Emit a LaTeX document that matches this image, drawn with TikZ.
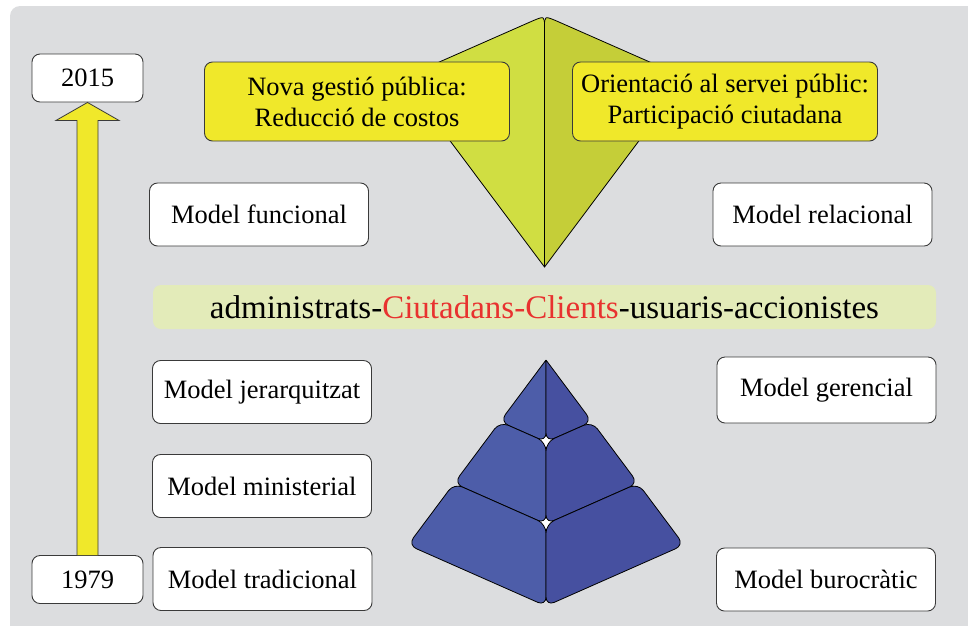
\documentclass[tikz,border=0pt]{standalone}
\usepackage{fontspec}
\setmainfont{Liberation Serif}
\usetikzlibrary{calc}
\definecolor{panelgrey}{HTML}{DCDDDF}
\definecolor{boxyellow}{HTML}{F0E82A}
\definecolor{bandgreen}{HTML}{E3EBB9}
\definecolor{accentred}{HTML}{E8322F}
\definecolor{kiteL}{HTML}{D0DE42}
\definecolor{kiteR}{HTML}{C5CE38}
\definecolor{pyrL}{HTML}{4D5DA9}
\definecolor{pyrR}{HTML}{4650A0}
\definecolor{edge}{HTML}{3A3A3A}
\begin{document}
\begin{tikzpicture}[x=1pt,y=-1pt,
  txt/.style={font=\fontsize{26.5}{31}\selectfont, text=black, align=center, inner sep=0pt},
  modelbox/.style={txt, draw=edge, line width=0.9pt, fill=white, rounded corners=8, minimum width=219, minimum height=63},
  yearbox/.style={txt, draw=edge, line width=0.9pt, fill=white, rounded corners=8, minimum width=111, minimum height=48},
  themebox/.style={txt, draw=edge, line width=0.9pt, fill=boxyellow, rounded corners=8, minimum width=305, minimum height=79},
  piece/.style={draw=black, line width=0.8pt, rounded corners=9, line join=round}]
\useasboundingbox (0,0) rectangle (968,625);
% background panel
\fill[panelgrey, rounded corners=10] (10,6) rectangle (990,650);

% kite behind the two theme boxes
\coordinate (Dtop) at (544.5,16);
\coordinate (Dbot) at (544.5,267);
\coordinate (Dleft) at (403,78);
\coordinate (Dright) at (686,78);
\draw[fill=kiteL, line width=0.8pt, line join=round]
  (Dbot) -- (Dleft) -- ($(Dtop)+(-11,4.5)$) .. controls (Dtop) .. ($(Dtop)+(0,11)$) -- cycle;
\draw[fill=kiteR, line width=0.8pt, line join=round]
  (Dbot) -- (Dright) -- ($(Dtop)+(11,4.5)$) .. controls (Dtop) .. ($(Dtop)+(0,11)$) -- cycle;

% theme boxes
\node[themebox] (nova) at (357,101.5) {Nova gestió pública:\\Reducció de costos};
\node[themebox] (orient) at (725,101.5) {Orientació al servei públic:\\Participació ciutadana};

% timeline
\node[yearbox] (y2015) at (87.5,78) {2015};
\node[yearbox] (y1979) at (87.5,579.5) {1979};
\draw[fill=boxyellow, draw=edge, line width=0.8pt, line join=miter]
  ($(y1979.north)+(-10.5,0)$) -- ($(y2015.south)+(-10.5,18)$) -- ($(y2015.south)+(-31.5,18)$)
  -- (y2015.south) -- ($(y2015.south)+(31.5,18)$) -- ($(y2015.south)+(10.5,18)$)
  -- ($(y1979.north)+(10.5,0)$);

% model boxes
\node[modelbox] (funcional) at (259,214.5) {Model funcional};
\node[modelbox] (relacional) at (822.5,214.5) {Model relacional};
\node[modelbox] (jerarq) at (262,392) {Model jerarquitzat};
\node[modelbox] (minist) at (262,486) {Model ministerial};
\node[modelbox] (tradic) at (262.5,579) {Model tradicional};
\node[modelbox, minimum height=66] (gerenc) at (826.5,390) {Model gerencial};
\node[modelbox] (buroc) at (826,579.5) {Model burocràtic};

% central band
\node[font=\fontsize{33}{38}\selectfont, fill=bandgreen, rounded corners=8,
      minimum width=783, minimum height=44, inner sep=0pt] (band) at (544.5,307)
  {administrats-\textcolor{accentred}{Ciutadans-Clients}-usuaris-accionistes};

% pyramid split into three tiers and two halves
\coordinate (A) at (546,360);
\coordinate (L) at (408,545);
\coordinate (R) at (684,545);
\coordinate (B) at (546,606);
\coordinate (P1L) at ($(A)!1/3!(L)$);
\coordinate (P2L) at ($(A)!2/3!(L)$);
\coordinate (P1R) at ($(A)!1/3!(R)$);
\coordinate (P2R) at ($(A)!2/3!(R)$);
\coordinate (C1) at ($(A)!1/3!(B)$);
\coordinate (C2) at ($(A)!2/3!(B)$);
\foreach \c in {C1,C2}
  \fill[white] ($(\c)+(0,-9)$) -- ($(\c)+(8,0)$) -- ($(\c)+(0,9)$) -- ($(\c)+(-8,0)$) -- cycle;
% top tier
\draw[piece, fill=pyrL] (A) -- (P1L) -- (C1) -- (A);
\draw[piece, fill=pyrR] (A) -- (P1R) -- (C1) -- (A);
% middle tier
\draw[piece, fill=pyrL] ($(P1L)!0.5!(P2L)$) -- (P2L) -- (C2) -- (C1) -- (P1L) -- cycle;
\draw[piece, fill=pyrR] ($(P1R)!0.5!(P2R)$) -- (P2R) -- (C2) -- (C1) -- (P1R) -- cycle;
% bottom tier
\draw[piece, fill=pyrL] ($(P2L)!0.5!(L)$) -- (L) -- (B) -- (C2) -- (P2L) -- cycle;
\draw[piece, fill=pyrR] ($(P2R)!0.5!(R)$) -- (R) -- (B) -- (C2) -- (P2R) -- cycle;
\end{tikzpicture}
\end{document}
